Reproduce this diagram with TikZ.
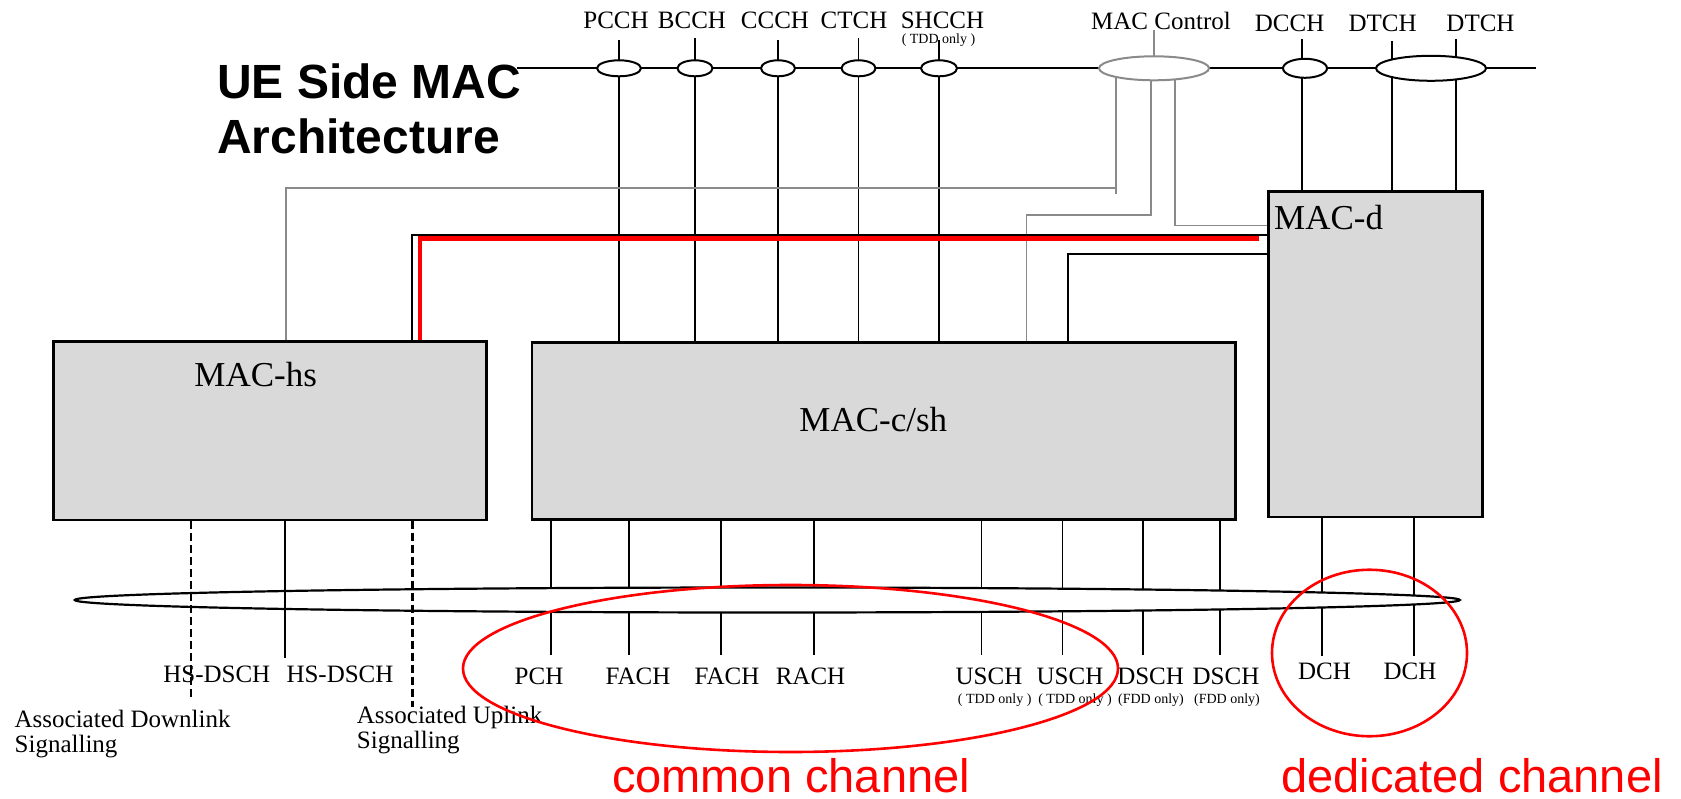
\documentclass[tikz,border=0pt]{standalone}
\usepackage{fontspec}
\setmainfont{Liberation Serif}
\newfontfamily\titlefont{Liberation Sans}
\usetikzlibrary{shapes.geometric}
\pgfdeclarelayer{bg}\pgfdeclarelayer{fg}
\pgfsetlayers{bg,main,fg}
\definecolor{boxgray}{HTML}{D9D9D9}
\definecolor{ctrlgray}{HTML}{8A8A8A}
\definecolor{redc}{HTML}{FF0000}
\tikzset{
  macbox/.style={draw=black, fill=boxgray, line width=2.4pt, anchor=north west, inner sep=0pt, outer sep=0pt},
  chell/.style={draw=black, fill=white, ellipse, line width=2pt, inner sep=0pt},
  ctrlell/.style={draw=ctrlgray, fill=white, ellipse, line width=2pt, inner sep=0pt},
  wire/.style={draw=black, line width=1.7pt},
  gwire/.style={draw=ctrlgray, line width=1.7pt},
  redwire/.style={draw=redc, line width=4.5pt},
  dwire/.style={draw=black, line width=2.6pt, dash pattern=on 8pt off 4pt},
  lab/.style={font=\fontsize{25}{25}\selectfont, inner sep=0pt, anchor=base},
  sublab/.style={font=\fontsize{14}{14}\selectfont, inner sep=0pt, anchor=base},
  boxlab/.style={font=\fontsize{35}{35}\selectfont, inner sep=0pt, anchor=base},
  sidelab/.style={font=\fontsize{25}{25}\selectfont, inner sep=0pt, anchor=base west},
  titlelab/.style={font=\titlefont\bfseries\fontsize{48}{48}\selectfont, inner sep=0pt, anchor=base west},
  redlab/.style={font=\titlefont\fontsize{47}{47}\selectfont, text=redc, inner sep=0pt, anchor=base, text depth=0pt},
  redell/.style={draw=redc, ellipse, line width=2.6pt, inner sep=0pt},
}
\begin{document}
\begin{tikzpicture}[x=1pt,y=-1pt]
\useasboundingbox (0,0) rectangle (1681,799);

% ---------- boxes ----------
\node[macbox, minimum width=433pt, minimum height=178pt] (hs) at (53.6,341.7) {};
\node[macbox, minimum width=703.6pt, minimum height=176.6pt] (csh) at (532,342.7) {};
\node[macbox, minimum width=214pt, minimum height=325pt] (macd) at (1268.3,191.7) {};
\node[boxlab] (hslab) at (255.7,387) {MAC-hs};
\node[boxlab] (cshlab) at (873.3,431.7) {MAC-c/sh};
\node[boxlab, anchor=base west] (macdlab) at (1274,230) {MAC-d};

% ---------- title ----------
\node[titlelab] (title1) at (217,98.3) {UE Side MAC};
\node[titlelab] (title2) at (217,153.3) {Architecture};

% ---------- top logical channel ellipses ----------
\node[chell, minimum width=44pt, minimum height=16pt] (pcche) at (619,68.3) {};
\node[chell, minimum width=35pt, minimum height=16pt] (bcche) at (695,68.3) {};
\node[chell, minimum width=34pt, minimum height=16pt] (cccche) at (778,68.3) {};
\node[chell, minimum width=34pt, minimum height=16pt] (ctche) at (858.5,68.3) {};
\node[chell, minimum width=36pt, minimum height=16pt] (shcche) at (939,68.3) {};
\node[ctrlell, minimum width=110pt, minimum height=24pt] (ctrle) at (1154,68.3) {};
\node[chell, minimum width=44pt, minimum height=19pt] (dcche) at (1305,68.3) {};
\node[chell, minimum width=110pt, minimum height=25pt] (dtche) at (1431,68.3) {};

% ---------- top labels ----------
\node[lab] (pcchl) at (616,28.3) {PCCH};
\node[lab] (bcchl) at (692,28.3) {BCCH};
\node[lab] (ccchl) at (775,28.3) {CCCH};
\node[lab] (ctchl) at (854,28.3) {CTCH};
\node[lab] (shcchl) at (942.5,28.3) {SHCCH};
\node[sublab] (shcchs) at (938.5,43.5) {( TDD only )};
\node[lab] (ctrll) at (1161,30) {MAC Control};
\node[lab] (dcchl) at (1289.6,31.7) {DCCH};
\node[lab] (dtchl1) at (1382.6,31.7) {DTCH};
\node[lab] (dtchl2) at (1480.5,31.7) {DTCH};

% ---------- coordinates for free ends ----------
\coordinate (topL) at (516.7,68.3);
\coordinate (topR) at (1536,68.3);
\coordinate (pcch-t) at (619,40);
\coordinate (bcch-t) at (695,38.5);
\coordinate (ccch-t) at (778,40);
\coordinate (ctch-t) at (858.5,38.5);
\coordinate (shcch-t) at (939,40);
\coordinate (ctrl-t) at (1154,30);
\coordinate (dcch-t) at (1302,39);
\coordinate (dtch1-t) at (1392,41.5);
\coordinate (dtch2-t) at (1456,39);

\begin{pgfonlayer}{bg}
  % top transport line
  \draw[wire, line width=2pt] (topL) -- (topR);
  % logical channels into MAC-c/sh
  \draw[wire] (pcch-t) -- (pcch-t |- csh.north);
  \draw[wire] (bcch-t) -- (bcch-t |- csh.north);
  \draw[wire] (ccch-t) -- (ccch-t |- csh.north);
  \draw[wire] (ctch-t) -- (ctch-t |- csh.north);
  \draw[wire] (shcch-t) -- (shcch-t |- csh.north);
  % logical channels into MAC-d
  \draw[wire] (dcch-t) -- (dcch-t |- macd.north);
  \draw[wire] (dtch1-t) -- (dtch1-t |- macd.north);
  \draw[wire] (dtch2-t) -- (dtch2-t |- macd.north);
  % MAC control lines
  \draw[gwire] (ctrl-t) -- (ctrle.center);
  \draw[gwire] (1116,68.3) -- (1116,194);
  \draw[gwire] (1116,188) -- (286,188) -- (286,346);
  \draw[gwire] (1151,68.3) -- (1151,215) -- (1026.5,215) -- (1026.5,0 |- csh.north);
  \draw[gwire] (1175,68.3) -- (1175,225.5) -- (macd.west |- 0,225.5);
  % MAC-d to MAC-hs and MAC-c/sh
  \draw[wire] (macd.west |- 0,235) -- (412,235) -- (412,0 |- hs.north);
  \draw[redwire] (1259,238.5) -- (420,238.5) -- (420,0 |- hs.north);
  \draw[wire] (macd.west |- 0,254) -- (1068,254) -- (1068,0 |- csh.north);
  % transport channels below MAC-c/sh
  \foreach \xx in {551,629,721,814,981.5,1062.5,1143,1220}
    \draw[wire] (\xx,519.3) -- (\xx,655);
  % transport channels below MAC-d
  \draw[wire] (1321.7,516.7) -- (1321.7,656);
  \draw[wire] (1414,516.7) -- (1414,656);
\end{pgfonlayer}

% ---------- bus ellipse ----------
\node[draw=black, fill=white, ellipse, line width=2.2pt, inner sep=0pt,
      minimum width=1385pt, minimum height=25pt] (bus) at (767.3,600) {};

\begin{pgfonlayer}{fg}
  \draw[dwire] (191,520.8) -- (191,700);
  \draw[wire, line width=1.9pt] (285,520.8) -- (285,658);
  \draw[dwire] (412.5,520.8) -- (412.5,707);
  \node[redell, minimum width=655pt, minimum height=167pt] (common) at (790.5,668.5) {};
  \node[redell, minimum width=195pt, minimum height=166.5pt] (dedic) at (1369.5,653) {};
\end{pgfonlayer}

% ---------- bottom labels ----------
\node[lab] (hsd1) at (216.8,682) {HS-DSCH};
\node[lab] (hsd2) at (340,682) {HS-DSCH};
\node[lab] (pch) at (539,684) {PCH};
\node[lab] (fach1) at (638,684) {FACH};
\node[lab] (fach2) at (727,684) {FACH};
\node[lab] (rach) at (810.5,684) {RACH};
\node[lab] (usch1) at (989,684) {USCH};
\node[lab] (usch2) at (1070,684) {USCH};
\node[lab] (dsch1) at (1150.6,684) {DSCH};
\node[lab] (dsch2) at (1226,684) {DSCH};
\node[sublab] (usch1s) at (994.7,703) {( TDD only )};
\node[sublab] (usch2s) at (1075,703) {( TDD only )};
\node[sublab] (dsch1s) at (1151,703) {(FDD only)};
\node[sublab] (dsch2s) at (1227,703) {(FDD only)};
\node[lab] (dch1) at (1324.5,679) {DCH};
\node[lab] (dch2) at (1410,679) {DCH};

\node[sidelab] (adl1) at (14.5,727) {Associated Downlink};
\node[sidelab] (adl2) at (14.5,752) {Signalling};
\node[sidelab] (aul1) at (356.7,723) {Associated Uplink};
\node[sidelab] (aul2) at (356.7,748) {Signalling};

\node[redlab] (commonlab) at (791,792) {common channel};
\node[redlab] (dedlab) at (1472,792) {dedicated channel};
\end{tikzpicture}
\end{document}
